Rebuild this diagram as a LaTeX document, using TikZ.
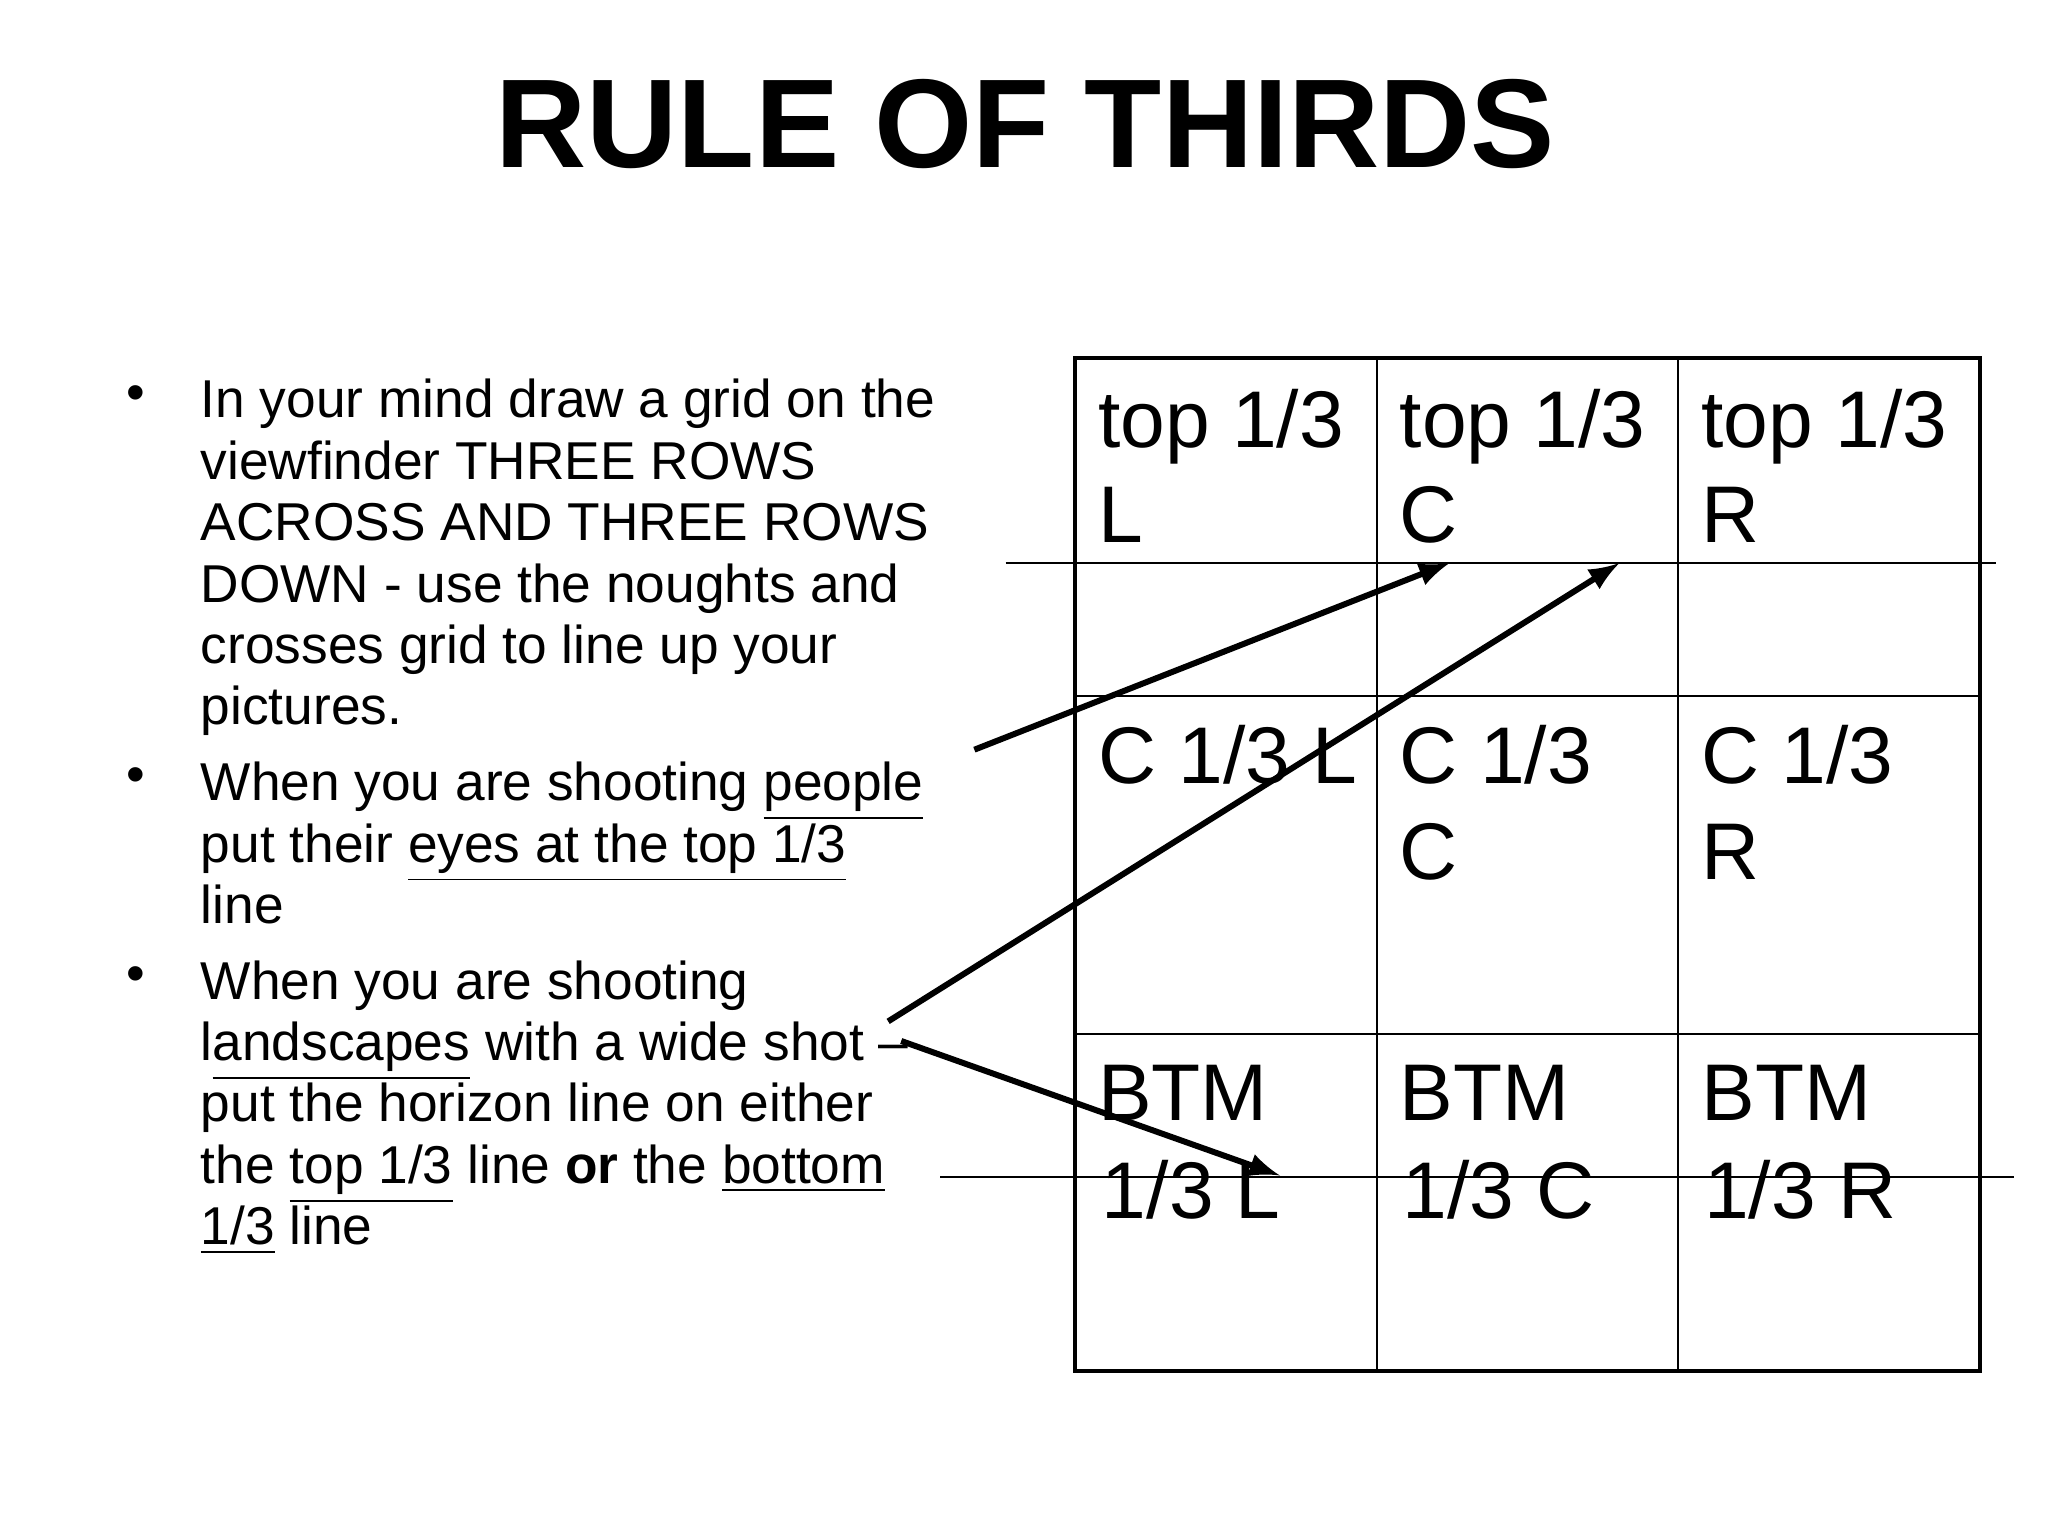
\documentclass[tikz,border=0pt]{standalone}
\usepackage{fontspec}
\setmainfont{Liberation Sans}
\begin{document}
\begin{tikzpicture}[x=0.01cm,y=-0.01cm,
 bl/.style={anchor=base west,inner sep=0pt,font=\fontsize{11.6pt}{13pt}\selectfont},
 cl/.style={anchor=base west,inner sep=0pt,font=\fontsize{17.5pt}{20pt}\selectfont},
 arr/.style={line width=1.3pt,-latex}]
\useasboundingbox (0,0) rectangle (1568,1176);
\node[inner sep=0pt,anchor=base,font=\fontsize{27.5pt}{30pt}\selectfont\bfseries] (title) at (785,128) {RULE OF THIRDS};
% grid
\draw[line width=0.45pt] (1054,274) -- (1054,1050) (1285,274) -- (1285,1050)
  (823,533) -- (1516,533) (823,792) -- (1516,792);
\draw[line width=0.3pt] (770,431) -- (1528,431) (720,901) -- (1542,901);
\draw[line width=0.9pt] (823,274) rectangle (1516,1050);
% cells
\node[cl] (a1) at (840,343) {top 1/3}; \node[cl] (a2) at (840,415) {L};
\node[cl] (b1) at (1071,343) {top 1/3}; \node[cl] (b2) at (1071,415) {C};
\node[cl] (c1) at (1302,343) {top 1/3}; \node[cl] (c2) at (1302,415) {R};
\node[cl] (d1) at (840,600) {C 1/3 L};
\node[cl] (e1) at (1071,600) {C 1/3}; \node[cl] (e2) at (1071,673) {C};
\node[cl] (f1) at (1302,600) {C 1/3}; \node[cl] (f2) at (1302,673) {R};
\node[cl] (g1) at (840,858) {BTM}; \node[cl] (g2) at (843,933) {1/3 L};
\node[cl] (h1) at (1071,858) {BTM}; \node[cl] (h2) at (1073,933) {1/3 C};
\node[cl] (i1) at (1302,858) {BTM}; \node[cl] (i2) at (1304,933) {1/3 R};
% bullets
\node[bl] (k1) at (96,314) {•}; \node[bl] (k2) at (96,607) {•}; \node[bl] (k3) at (96,759) {•};
\node[bl] (t1) at (153,320) {In your mind draw a grid on the};
\node[bl] (t2) at (153,367) {viewfinder THREE ROWS};
\node[bl] (t3) at (153,414) {ACROSS AND THREE ROWS};
\node[bl] (t4) at (153,461) {DOWN - use the noughts and};
\node[bl] (t5) at (153,508) {crosses grid to line up your};
\node[bl] (t6) at (153,555) {pictures.};
\node[bl] (u1) at (153,613) {When you are shooting \underline{people}};
\node[bl] (u2) at (153,660) {put their \underline{eyes at the top 1/3}};
\node[bl] (u3) at (153,707) {line};
\node[bl] (v1) at (153,765) {When you are shooting};
\node[bl] (v2) at (153,812) {l\underline{andscapes} with a wide shot --};
\node[bl] (v3) at (153,859) {put the horizon line on either};
\node[bl] (v4) at (153,906) {the \underline{top 1/3} line \textbf{or} the \underline{bottom}};
\node[bl] (v5) at (153,953) {\underline{1/3} line};
% arrows
\coordinate (p1) at (746,574); \coordinate (q1) at (1110,431);
\coordinate (p2) at (680,782); \coordinate (q2) at (1240,431);
\coordinate (p3) at (690,797); \coordinate (q3) at (980,900);
\draw[arr] (p1) -- (q1);
\draw[arr] (p2) -- (q2);
\draw[arr] (p3) -- (q3);
\end{tikzpicture}
\end{document}
